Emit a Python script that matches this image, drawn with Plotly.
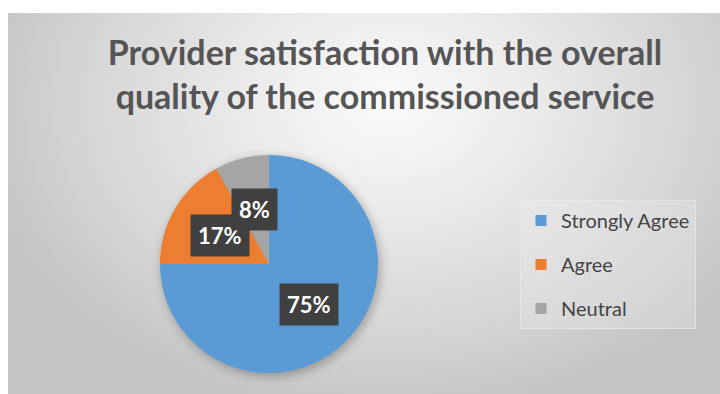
import base64
import math
import plotly.graph_objects as go

# Survey responses
categories = ["Strongly Agree", "Agree", "Neutral"]
shares = [75, 17, 8]
slice_colors = ["#5B9BD5", "#ED7D31", "#A5A5A5"]
title_lines = ["Provider satisfaction with the overall", "quality of the commissioned service"]

W, H = 720, 394
# chart panel (inside the white frame)
PX0, PY0 = 8, 13
# pie geometry in pixels
CX, CY, R = 269, 264, 109

# soft grey panel with a radial light spot and a shadow under the pie
svg = f"""<svg xmlns='http://www.w3.org/2000/svg' width='{W-PX0}' height='{H-PY0}' viewBox='0 0 {W-PX0} {H-PY0}' preserveAspectRatio='none'>
<defs>
<radialGradient id='g' gradientUnits='userSpaceOnUse' cx='380' cy='90' r='420' gradientTransform='translate(380 90) scale(1 0.75) translate(-380 -90)'>
<stop offset='0' stop-color='#fbfbfb'/>
<stop offset='0.35' stop-color='#eaeaea'/>
<stop offset='0.75' stop-color='#d4d4d4'/>
<stop offset='1' stop-color='#c4c4c4'/>
</radialGradient>
<filter id='b' x='-30%' y='-30%' width='160%' height='160%'><feGaussianBlur stdDeviation='5'/></filter>
</defs>
<rect width='100%' height='100%' fill='url(#g)'/>
<circle cx='{CX-PX0+2}' cy='{CY-PY0+3}' r='{R+1}' fill='rgba(0,0,0,0.25)' filter='url(#b)'/>
</svg>"""
bg_src = "data:image/svg+xml;base64," + base64.b64encode(svg.encode()).decode()

fig = go.Figure()

fig.add_trace(go.Pie(
    labels=categories,
    values=shares,
    sort=False,
    direction="clockwise",
    rotation=0,
    marker=dict(colors=slice_colors, line=dict(width=0)),
    textinfo="none",
    showlegend=False,
    domain=dict(x=[(CX - R) / W, (CX + R) / W], y=[1 - (CY + R) / H, 1 - (CY - R) / H]),
))

# legend entries (one group each so the rows can be spaced out)
for name, col in zip(categories, slice_colors):
    fig.add_trace(go.Scatter(
        x=[None], y=[None], mode="markers", name=name, legendgroup=name,
        marker=dict(symbol="square", size=11, color=col),
    ))

# value labels on dark boxes, placed along each slice's middle angle
total = sum(shares)
cum = 0
for v in shares:
    mid = (cum + v / 2) / total * 2 * math.pi
    cum += v
    lx = CX + 0.52 * R * math.sin(mid)
    ly = CY - 0.52 * R * math.cos(mid)
    fig.add_annotation(
        x=lx / W, y=1 - ly / H, xref="paper", yref="paper",
        xanchor="center", yanchor="middle",
        text=f"<b>{round(v / total * 100)}%</b>", showarrow=False,
        font=dict(family="Lato, sans-serif", size=22, color="white"),
        bgcolor="#404040", borderpad=7,
    )

fig.update_layout(
    width=W, height=H,
    margin=dict(l=0, r=0, t=0, b=0),
    paper_bgcolor="white",
    plot_bgcolor="rgba(0,0,0,0)",
    xaxis=dict(visible=False),
    yaxis=dict(visible=False),
    title=dict(
        text="<b>" + "<br>".join(title_lines) + "</b>",
        x=385 / W, xanchor="center", y=1 - 65 / H, yanchor="top",
        font=dict(family="Lato, sans-serif", size=34, color="#555555"),
    ),
    legend=dict(
        x=520 / W, y=1 - 200 / H, xanchor="left", yanchor="top",
        bgcolor="rgba(240,240,240,0.3)", bordercolor="rgba(245,245,245,0.45)", borderwidth=1,
        tracegroupgap=15,
        font=dict(family="Lato, sans-serif", size=20, color="#444444"),
        itemwidth=30,
    ),
    images=[dict(
        source=bg_src, xref="paper", yref="paper",
        x=PX0 / W, y=1 - PY0 / H, sizex=1 - PX0 / W, sizey=1 - PY0 / H,
        xanchor="left", yanchor="top", sizing="stretch", layer="below",
    )],
)

fig.write_html("out.html")
